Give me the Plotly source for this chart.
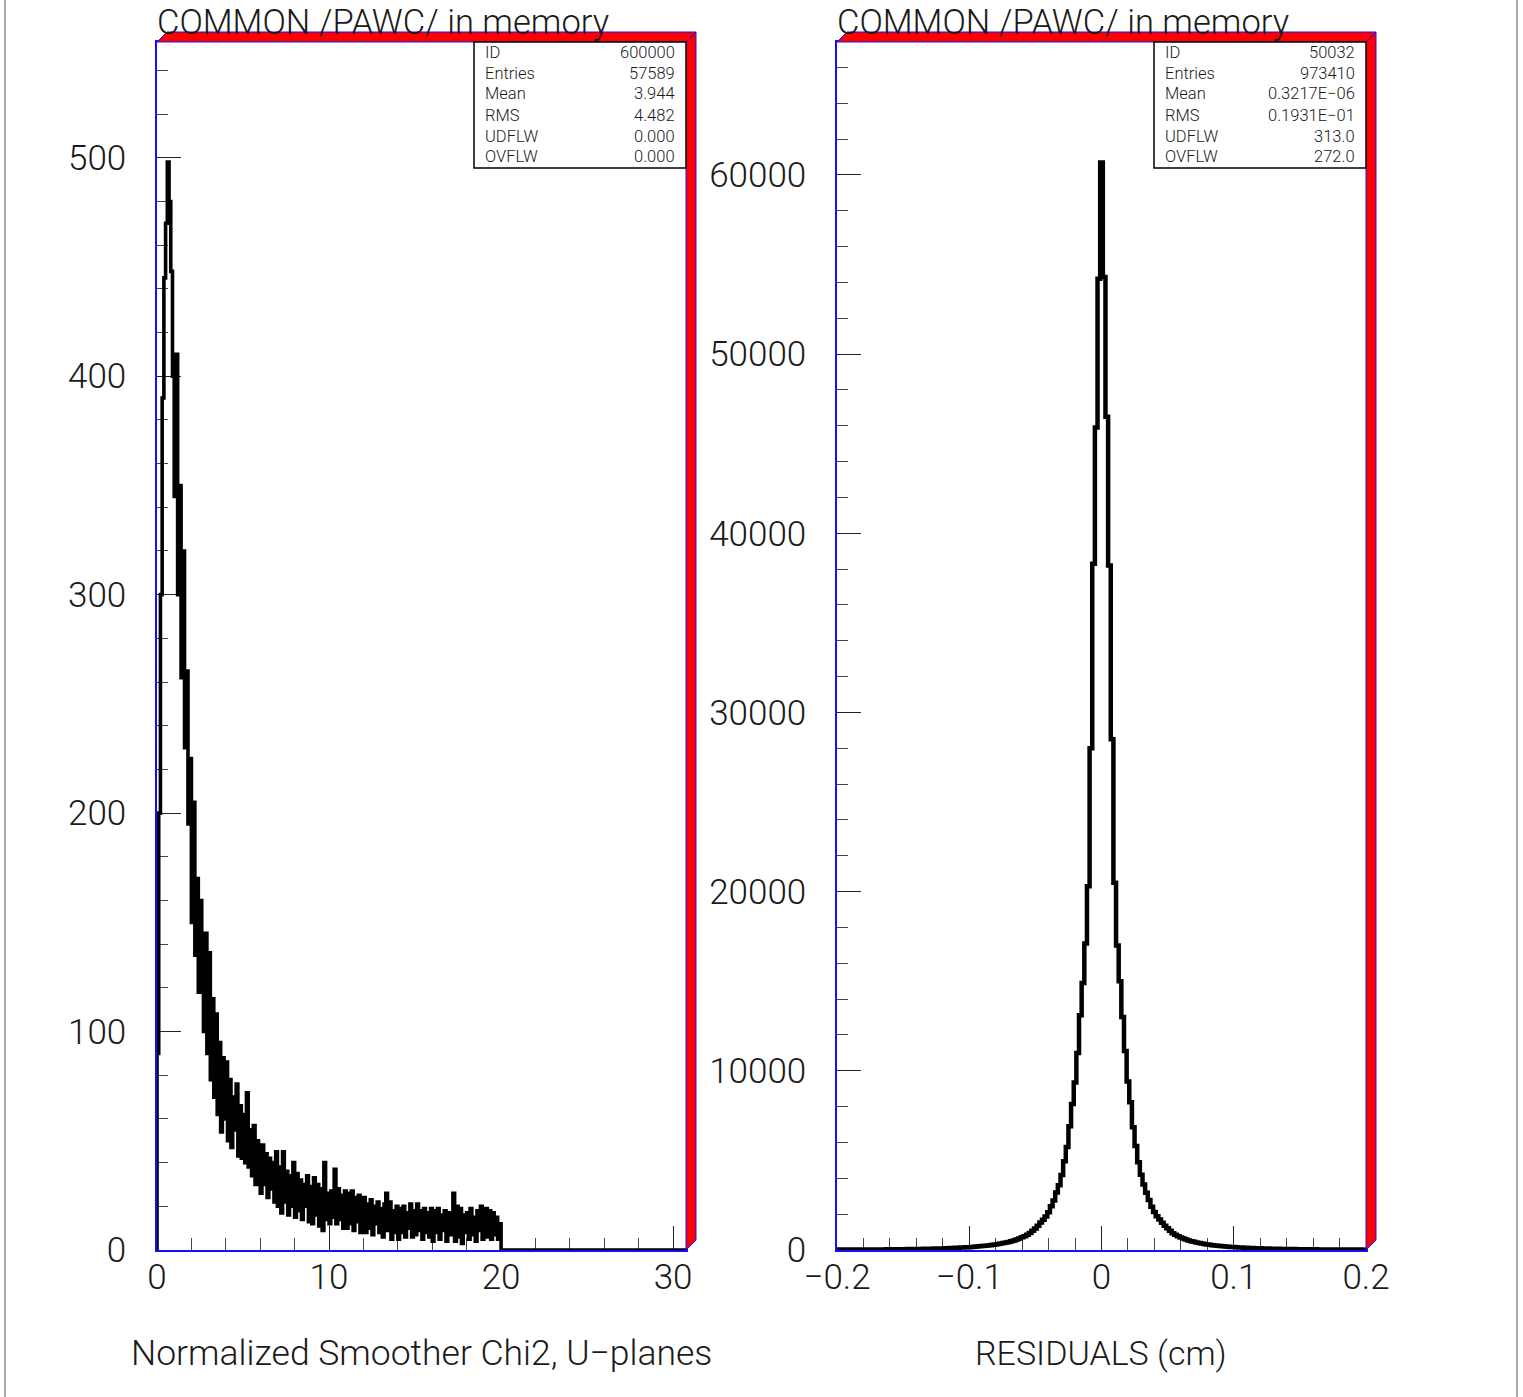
import plotly.graph_objects as go

# ---------------- data ----------------
# Left: Normalized Smoother Chi2, U-planes (bin width 0.1, 0..20)
chi2_bin_width = 0.1
chi2_counts = [
    90, 200, 300, 390, 445, 470, 498, 480, 448, 400,
    345, 410, 300, 350, 262, 320, 230, 265, 195, 225,
    150, 205, 135, 170, 118, 160, 128, 100, 145, 90,
    136, 78, 115, 70, 108, 62, 95, 54, 88, 60,
    86, 50, 78, 47, 70, 55, 76, 43, 66, 42,
    62, 40, 72, 38, 55, 34, 57, 30, 50, 35,
    26, 48, 30, 44, 24, 42, 28, 40, 22, 45,
    20, 38, 17, 45, 22, 36, 16, 34, 20, 40,
    15, 35, 18, 32, 14, 30, 20, 34, 13, 29,
    12, 33, 16, 30, 11, 28, 9, 40, 14, 26,
    12, 27, 15, 37, 12, 28, 14, 25, 10, 27,
    10, 26, 12, 27, 9, 24, 13, 25, 8, 22,
    24, 8, 21, 10, 23, 7, 20, 12, 22, 8,
    19, 6, 21, 26, 9, 22, 5, 18, 8, 20,
    5, 19, 8, 20, 6, 17, 10, 21, 6, 18,
    7, 21, 9, 18, 5, 19, 8, 17, 6, 19,
    4, 18, 8, 19, 5, 16, 9, 18, 4, 17,
    7, 17, 26, 4, 20, 6, 19, 3, 16, 8,
    17, 5, 19, 7, 15, 4, 18, 9, 20, 5,
    16, 19, 6, 18, 5, 17, 7, 15, 5, 12,
]
chi2_xmax = 30.75
chi2_ymax = 553

# Right: residuals (cm), bin width 0.002, bins centred on k*0.002, k=-100..100
resid_bin_width = 0.002
resid_first_center = -0.2
resid_counts = [
    18, 21, 20, 22, 21, 23, 22, 25, 24, 26,
    25, 28, 27, 30, 29, 32, 31, 34, 33, 36,
    36, 39, 39, 42, 42, 46, 46, 50, 50, 54,
    55, 59, 60, 65, 66, 71, 73, 79, 81, 87,
    90, 97, 100, 108, 112, 121, 126, 136, 142, 153,
    160, 172, 180, 195, 205, 222, 234, 254, 268, 290,
    308, 336, 358, 390, 418, 450, 495, 530, 590, 635,
    705, 765, 845, 950, 1080, 1200, 1350, 1530, 1690, 1870,
    2100, 2440, 2760, 3210, 3620, 4180, 4950, 5750, 6900, 8150,
    9350, 11000, 13100, 14900, 17100, 20300, 28000, 38300, 45900, 54200,
    60700,
    54300, 46500, 38200, 28500, 20500, 17000, 15000, 13000, 11100, 9400,
    8250, 6850, 5800, 4900, 4200, 3650, 3200, 2790, 2420, 2120,
    1880, 1700, 1520, 1360, 1210, 1070, 940, 850, 770, 700,
    640, 585, 535, 492, 455, 420, 388, 360, 334, 310,
    289, 270, 252, 236, 221, 207, 194, 182, 171, 161,
    152, 143, 135, 127, 120, 113, 107, 101, 96, 91,
    86, 82, 78, 74, 70, 67, 64, 61, 58, 56,
    53, 51, 49, 47, 45, 43, 41, 40, 38, 37,
    35, 34, 33, 32, 31, 30, 29, 28, 27, 26,
    25, 25, 24, 23, 22, 22, 21, 21, 20, 19,
]
resid_ymax = 67420

left_xticks = [0, 10, 20, 30]
left_xticklabels = ["0", "10", "20", "30"]
left_yticks = [0, 100, 200, 300, 400, 500]
left_yticklabels = ["0", "100", "200", "300", "400", "500"]
right_xticks = [-0.2, -0.1, 0, 0.1, 0.2]
right_xticklabels = ["\u22120.2", "\u22120.1", "0", "0.1", "0.2"]
right_yticks = [0, 10000, 20000, 30000, 40000, 50000, 60000]
right_yticklabels = ["0", "10000", "20000", "30000", "40000", "50000", "60000"]

title_text = "COMMON /PAWC/ in memory"
left_xlabel = "Normalized Smoother Chi2, U\u2212planes"
right_xlabel = "RESIDUALS (cm)"
stat_names = ["ID", "Entries", "Mean", "RMS", "UDFLW", "OVFLW"]
left_stats = ["600000", "57589", "3.944", "4.482", "0.000", "0.000"]
right_stats = ["50032", "973410", "0.3217E\u221206", "0.1931E\u221201", "313.0", "272.0"]

# ---------------- layout helpers ----------------
W, H = 1523, 1397
FONT = "Roboto"
TXT = "#1a1a1a"
BLUE = "#1010ff"


def fx(p):
    return p / W


def fy(p):
    return 1 - p / H


def step_xy(edges, counts, tail_x=None):
    xs = [edges[0]] + list(edges[:-1]) + [edges[-1]]
    ys = [0] + list(counts) + [0]
    if tail_x is not None:
        xs.append(tail_x)
        ys.append(0)
    return xs, ys


chi2_edges = [i * chi2_bin_width for i in range(len(chi2_counts) + 1)]
resid_edges = [resid_first_center - resid_bin_width / 2 + i * resid_bin_width
               for i in range(len(resid_counts) + 1)]

lx, ly = step_xy(chi2_edges, chi2_counts, chi2_xmax)
rx, ry = step_xy(resid_edges, resid_counts)

fig = go.Figure()
fig.add_trace(go.Scatter(x=lx, y=ly, mode="lines", line=dict(color="black", width=3.6, shape="hv"),
                         xaxis="x", yaxis="y", showlegend=False, hoverinfo="skip"))
fig.add_trace(go.Scatter(x=rx, y=ry, mode="lines", line=dict(color="black", width=4.5, shape="hv"),
                         xaxis="x2", yaxis="y2", showlegend=False, hoverinfo="skip"))

panels = [
    (157, 686),   # left panel pixel x
    (837, 1366),  # right panel pixel x
]
ytop, ybot = 42, 1250

axis_common = dict(showgrid=False, zeroline=False, showline=True, linecolor=BLUE, linewidth=1.5,
                   mirror=True, ticks="inside", tickcolor="#222", tickwidth=1.3,
                   layer="below traces", fixedrange=True, automargin=False,
                   tickfont=dict(family=FONT, size=35, color=TXT, weight=300))

fig.update_layout(
    width=W, height=H, autosize=False,
    margin=dict(l=0, r=0, t=0, b=0, pad=0, autoexpand=False),
    paper_bgcolor="white", plot_bgcolor="white",
    font=dict(family=FONT, color=TXT),
    xaxis=dict(axis_common, domain=[fx(157), fx(686)], anchor="y", range=[0, chi2_xmax],
               tickvals=left_xticks, ticktext=left_xticklabels, ticklen=24, ticklabelstandoff=-5,
               minor=dict(dtick=2, tick0=0, ticklen=12, ticks="inside", tickcolor="#444", tickwidth=1.2)),
    yaxis=dict(axis_common, domain=[fy(ybot), fy(ytop)], anchor="x", range=[0, chi2_ymax],
               tickvals=left_yticks, ticktext=left_yticklabels, ticklen=24, ticklabelstandoff=22,
               minor=dict(dtick=20, tick0=0, ticklen=11, ticks="inside", tickcolor="#444", tickwidth=1.2)),
    xaxis2=dict(axis_common, domain=[fx(837), fx(1366)], anchor="y2", range=[-0.2, 0.2],
                tickvals=right_xticks, ticktext=right_xticklabels, ticklen=24, ticklabelstandoff=-5,
                minor=dict(dtick=0.02, tick0=0, ticklen=12, ticks="inside", tickcolor="#444", tickwidth=1.2)),
    yaxis2=dict(axis_common, domain=[fy(ybot), fy(ytop)], anchor="x2", range=[0, resid_ymax],
                tickvals=right_yticks, ticktext=right_yticklabels, ticklen=24, ticklabelstandoff=22,
                minor=dict(dtick=2000, tick0=0, ticklen=11, ticks="inside", tickcolor="#444", tickwidth=1.2)),
)

shapes = []
annotations = []
d = 10  # 3D depth in px
for (x0, x1) in panels:
    # top red strip
    shapes.append(dict(type="path", xref="paper", yref="paper",
                       path=f"M {fx(x0)},{fy(ytop)} L {fx(x0 + d)},{fy(ytop - d)} L {fx(x1 + d)},{fy(ytop - d)} L {fx(x1)},{fy(ytop)} Z",
                       fillcolor="#ff0000", line=dict(color=BLUE, width=1)))
    # right red strip
    shapes.append(dict(type="path", xref="paper", yref="paper",
                       path=f"M {fx(x1)},{fy(ytop)} L {fx(x1 + d)},{fy(ytop - d)} L {fx(x1 + d)},{fy(ybot - d)} L {fx(x1)},{fy(ybot)} Z",
                       fillcolor="#ff0000", line=dict(color=BLUE, width=1)))
    # title
    annotations.append(dict(xref="paper", yref="paper", x=fx(x0 - 2), y=fy(22), xanchor="left", yanchor="middle",
                            text=title_text, showarrow=False,
                            font=dict(family=FONT, size=34.5, color=TXT, weight=300)))

# stats boxes
box_w = 212
row_y = [52, 73, 94, 115, 136, 157]
for (x0, x1), vals in zip(panels, [left_stats, right_stats]):
    bx0 = x1 - box_w
    shapes.append(dict(type="rect", xref="paper", yref="paper", x0=fx(bx0), x1=fx(x1), y0=fy(168), y1=fy(ytop),
                       fillcolor="white", line=dict(color="black", width=1.5), layer="above"))
    for name, val, yy in zip(stat_names, vals, row_y):
        annotations.append(dict(xref="paper", yref="paper", x=fx(bx0 + 9), y=fy(yy), xanchor="left", yanchor="middle",
                                text=name, showarrow=False, font=dict(family=FONT, size=16.5, color=TXT, weight=300)))
        annotations.append(dict(xref="paper", yref="paper", x=fx(x1 - 9), y=fy(yy), xanchor="right", yanchor="middle",
                                text=val, showarrow=False, font=dict(family=FONT, size=16.5, color=TXT, weight=300)))

# axis titles
for xc, lab, sz in [(421, left_xlabel, 35.5), (1101, right_xlabel, 34)]:
    annotations.append(dict(xref="paper", yref="paper", x=fx(xc), y=fy(1353), xanchor="center", yanchor="middle",
                            text=lab, showarrow=False, font=dict(family=FONT, size=sz, color=TXT, weight=300)))

# page border lines
for xp in [5, 1517]:
    shapes.append(dict(type="line", xref="paper", yref="paper", x0=fx(xp), x1=fx(xp), y0=0, y1=1,
                       line=dict(color="#555", width=1)))

fig.update_layout(shapes=shapes, annotations=annotations)
fig.write_html("out.html")
